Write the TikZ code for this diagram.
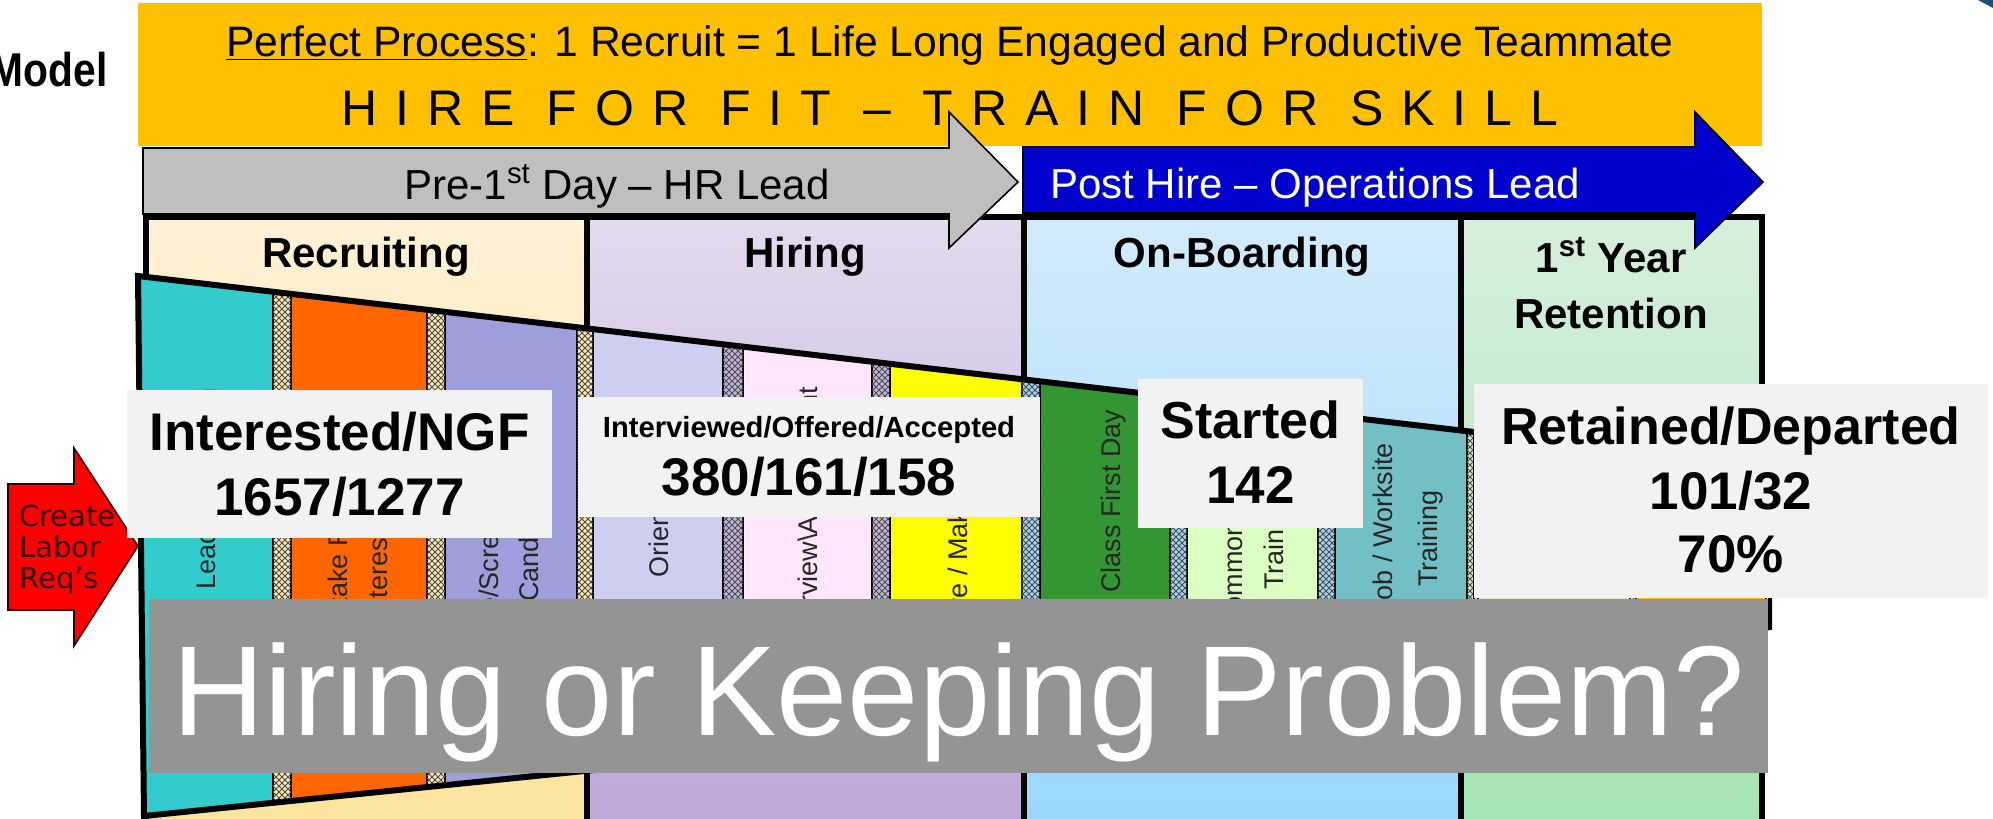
\documentclass[tikz,border=0pt]{standalone}
\usepackage{fontspec}
\setmainfont{Liberation Sans}
\newfontfamily\spacedfont[LetterSpace=36]{Liberation Sans}
\newfontfamily\reqfont{DejaVu Sans}
\usetikzlibrary{patterns}

\definecolor{goldbar}{RGB}{255,192,0}
\definecolor{greyarrow}{RGB}{191,191,191}
\definecolor{bluearrow}{RGB}{0,0,204}
\definecolor{recTop}{RGB}{255,241,214}
\definecolor{recBot}{RGB}{253,227,155}
\definecolor{hirTop}{RGB}{226,218,237}
\definecolor{hirBot}{RGB}{188,166,214}
\definecolor{onbTop}{RGB}{210,235,252}
\definecolor{onbBot}{RGB}{151,215,251}
\definecolor{retTop}{RGB}{215,239,220}
\definecolor{retBot}{RGB}{164,227,181}
\definecolor{leadTeal}{RGB}{51,204,204}
\definecolor{intakeOrange}{RGB}{255,102,0}
\definecolor{screenBlue}{RGB}{158,158,219}
\definecolor{orientLav}{RGB}{206,206,240}
\definecolor{viewPink}{RGB}{255,230,250}
\definecolor{offerYellow}{RGB}{255,255,0}
\definecolor{classGreen}{RGB}{51,150,51}
\definecolor{commonLime}{RGB}{222,255,196}
\definecolor{jobTeal}{RGB}{114,191,197}
\definecolor{hatchCream}{RGB}{250,232,176}
\definecolor{hatchLav}{RGB}{196,180,224}
\definecolor{hatchBlue}{RGB}{160,212,242}
\definecolor{hatchGreen}{RGB}{200,236,200}
\definecolor{retainLime}{RGB}{214,240,200}
\definecolor{reqRed}{RGB}{255,0,0}
\definecolor{boxgrey}{RGB}{242,242,242}
\definecolor{bannergrey}{RGB}{148,148,148}
\definecolor{cornerblue}{RGB}{31,78,121}

\newcommand{\fsz}[1]{\fontsize{#1}{#1}\selectfont}

\tikzset{colframe/.style={draw=black, line width=3pt, line join=miter}}
\tikzset{stripline/.style={draw=black, line width=0.6pt}}
\tikzset{hatched/.style={stripline, fill=#1,
    postaction={pattern=north east lines, pattern color=black!70},
    postaction={pattern=north west lines, pattern color=black!70}}}
\tikzset{striplabel/.style={rotate=90, anchor=base west, inner sep=0pt, font=\fsz{13.5}, text=black!85}}
\tikzset{phasearrow/.style={draw=black, line width=0.8pt, line join=miter}}
\tikzset{header/.style={anchor=base, inner sep=0pt, font=\bfseries\fsz{21}}}
\tikzset{plaintext/.style={anchor=base, inner sep=0pt, font=\fsz{#1}}}
\tikzset{datatext/.style={anchor=base, inner sep=0pt, font=\bfseries\fsz{#1}}}
\tikzset{databox/.style={fill=boxgrey, inner sep=0pt, outer sep=0pt, anchor=north west}}
\tikzset{reqtext/.style={anchor=base west, inner sep=0pt, font=\reqfont\fsz{14.5}, text=black!80!red}}

\begin{document}
\begin{tikzpicture}[x=0.5pt, y=-0.5pt]
  \useasboundingbox (0,0) rectangle (1993,819);
  \fill[white] (0,0) rectangle (1993,819);

  % --- banner ---
  \node[anchor=base east, inner sep=0pt, font=\bfseries\fsz{23.7}] (model) at (108,86) {\scalebox{0.86}[1]{Model}};
  \fill[goldbar] (138,3) rectangle (1762,146);
  \node[plaintext=21.3] (motto) at (950,56)
       {\underline{Perfect Process}: 1 Recruit = 1 Life Long Engaged and Productive Teammate};
  \node[anchor=base, inner sep=0pt, font=\spacedfont\fsz{25}] (slogan) at (950,125)
       {HIRE FOR FIT – TRAIN FOR SKILL};
  \fill[cornerblue] (1978,0) -- (1993,0) -- (1993,8) -- cycle;

  % --- phase columns ---
  \foreach \xa/\xb/\ct/\cb in {146/587/recTop/recBot, 587/1024/hirTop/hirBot,
                               1024/1461/onbTop/onbBot, 1461/1762/retTop/retBot}
    \shadedraw[colframe, top color=\ct, bottom color=\cb] (\xa,217) rectangle (\xb,845);

  % --- first year section ---
  \begin{scope}
    \clip (1472,440) -- (1770,475) -- (1770,628) -- (1472,680) -- cycle;
    \filldraw[stripline, fill=retainLime] (1478,400) rectangle (1630,700);
    \filldraw[stripline, fill=goldbar] (1636,400) rectangle (1766,700);
    \path[hatched=hatchGreen] (1630,400) rectangle (1636,700);
  \end{scope}
  \draw[line width=2pt] (1472,440) -- (1770,475) -- (1770,628) -- (1472,680);

  % --- funnel ---
  \coordinate (fTL) at (138,276);
  \coordinate (fTR) at (1474,432);
  \coordinate (fBR) at (1474,680);
  \coordinate (fBL) at (144,816);
  \begin{scope}
    \clip (fTL) -- (fTR) -- (fBR) -- (fBL) -- cycle;
    \foreach \xa/\xb/\c in {120/273/leadTeal, 291/427/intakeOrange, 445/577/screenBlue,
                            593/723/orientLav, 743/872/viewPink, 890/1022/offerYellow,
                            1040/1170/classGreen, 1187/1318/commonLime, 1335/1467/jobTeal}
      \filldraw[stripline, fill=\c] (\xa,200) rectangle (\xb,900);
    \foreach \xa/\xb/\c in {273/291/hatchCream, 427/445/hatchCream, 577/593/hatchCream,
                            723/743/hatchLav, 872/890/hatchLav, 1022/1040/hatchBlue,
                            1170/1187/hatchBlue, 1318/1335/hatchBlue, 1467/1480/hatchGreen}
      \path[hatched=\c] (\xa,200) rectangle (\xb,900);
  \end{scope}
  \draw[line width=3pt, line join=miter] (fTR) -- (fTL) -- (fBL) -- (fBR);
  \draw[stripline] (fTR) -- (fBR);

  % --- stage labels ---
  \node[striplabel] (lead) at (215,590) {Lead Generation};
  \node[striplabel] (intake) at (347,628) {Intake Form};
  \node[striplabel] (interest) at (387,621) {Interest};
  \node[striplabel] (phone) at (498,676) {Phone/Screen};
  \node[striplabel] (cand) at (538,602) {Candidates};
  \node[striplabel] (orient) at (668,578) {Orientation};
  \node[striplabel] (assess) at (817,650) {Interview\textbackslash Assessment};
  \node[striplabel] (offer) at (967,633) {Hire / Make Offer};
  \node[striplabel] (class) at (1120,593) {Class First Day};
  \node[striplabel] (common) at (1242,631) {Common};
  \node[striplabel] (ctrain) at (1283,590) {Training};
  \node[striplabel] (job) at (1392,614) {Job / Worksite};
  \node[striplabel] (jtrain) at (1437,587) {Training};

  % --- labor request ---
  \filldraw[fill=reqRed, draw=black!80!red, line width=0.8pt, line join=miter]
    (8,484) -- (74,484) -- (74,448) -- (138,546) -- (74,646) -- (74,610) -- (8,610) -- cycle;
  \node[reqtext] (req1) at (19,526) {Create};
  \node[reqtext] (req2) at (19,557) {Labor};
  \node[reqtext] (req3) at (19,588) {Req’s};

  % --- phase arrows ---
  \draw[phasearrow, fill=greyarrow]
    (143,148) -- (949,148) -- (949,112) -- (1018,182) -- (949,248) -- (949,214) -- (143,214) -- cycle;
  \node[plaintext=21] (pre) at (617,199) {Pre-1\textsuperscript{st} Day – HR Lead};
  \draw[phasearrow, fill=bluearrow]
    (1023,147) -- (1695,147) -- (1695,112) -- (1763,182) -- (1695,248) -- (1695,213) -- (1023,213) -- cycle;
  \node[plaintext=21, text=white] (post) at (1315,198) {Post Hire – Operations Lead};

  % --- column headers ---
  \node[header] (recruit) at (366,267) {Recruiting};
  \node[header] (hiring) at (805,267) {Hiring};
  \node[header] (onboard) at (1242,267) {On-Boarding};
  \node[header] (year) at (1611,272) {1\textsuperscript{st} Year};
  \node[header] (retain) at (1611,328) {Retention};

  % --- counts ---
  \node[databox, minimum width=212.5pt, minimum height=74pt] (ngfbox) at (127,390) {};
  \node[datatext=26.5] (ngf1) at (339.5,450) {Interested/NGF};
  \node[datatext=26.5] (ngf2) at (339.5,515) {1657/1277};

  \node[databox, minimum width=231pt, minimum height=60pt] (acptbox) at (578,397) {};
  \node[datatext=14.6] (acpt1) at (809,437) {Interviewed/Offered/Accepted};
  \node[datatext=26.5] (acpt2) at (809,495) {380/161/158};

  \node[databox, minimum width=112.5pt, minimum height=74.5pt] (startbox) at (1138,379) {};
  \node[datatext=26] (start1) at (1250.5,438) {Started};
  \node[datatext=26.5] (start2) at (1250.5,503) {142};

  \node[databox, minimum width=257pt, minimum height=107pt] (retbox) at (1474,384) {};
  \node[datatext=26] (ret1) at (1731,444) {Retained/Departed};
  \node[datatext=26.5] (ret2) at (1731,509) {101/32};
  \node[datatext=26.5] (ret3) at (1731,572) {70\%};

  % --- question ---
  \node[fill=bannergrey, inner sep=0pt, outer sep=0pt, anchor=north west,
        minimum width=809.5pt, minimum height=87pt] (qbox) at (149,599) {};
  \node[plaintext=64, text=white] (question) at (958.5,735) {Hiring or Keeping Problem?};
\end{tikzpicture}
\end{document}
